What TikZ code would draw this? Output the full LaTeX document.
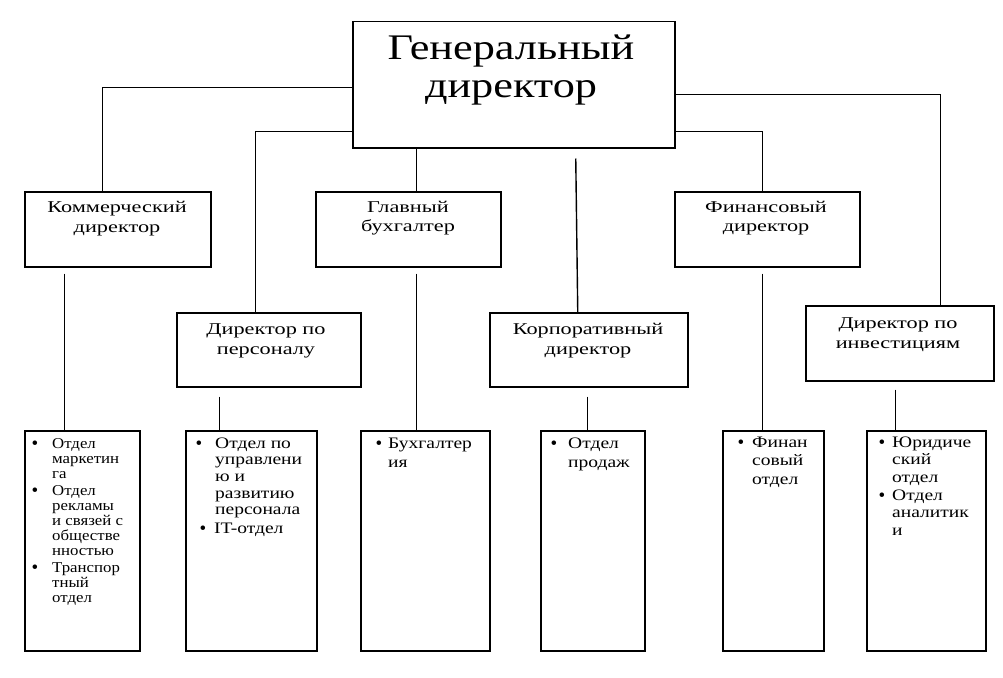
\documentclass[tikz,border=0pt]{standalone}
\usepackage{fontspec}
\setmainfont{Liberation Serif}
\newfontfamily\bigf[FakeStretch=1.23]{Liberation Serif}
\newfontfamily\midf[FakeStretch=1.35]{Liberation Serif}
\newfontfamily\smf[FakeStretch=1.12]{Liberation Serif}
\newfontfamily\smw[FakeStretch=1.22]{Liberation Serif}
\begin{document}
\begin{tikzpicture}[x=1pt,y=-1pt,
  box/.style={draw, line width=1.5pt, inner sep=0pt, anchor=north west},
  ln/.style={line width=1.4pt},
  bigt/.style={font=\bigf\fontsize{36}{38}\selectfont, align=center, anchor=base, inner sep=0pt},
  midt/.style={font=\midf\fontsize{16.5}{19.5}\selectfont, align=center, anchor=base, inner sep=0pt},
  bta/.style={font=\smf\fontsize{15}{15}\selectfont, align=left, anchor=base west, inner sep=0pt},
  btb/.style={font=\smw\fontsize{16}{#1}\selectfont, align=left, anchor=base west, inner sep=0pt},
  bul/.style={font=\fontsize{19}{19}\selectfont, anchor=base, inner sep=0pt}]
\useasboundingbox (0,0) rectangle (1003,677);
% boxes
\node[box, minimum width=322pt, minimum height=126pt] (gen) at (352,21) {};
\node[box, minimum width=186pt, minimum height=75pt] (comm) at (24,191) {};
\node[box, minimum width=185pt, minimum height=75pt] (buh) at (315,191) {};
\node[box, minimum width=185pt, minimum height=75pt] (fin) at (674,191) {};
\node[box, minimum width=184pt, minimum height=74pt] (pers) at (176,312) {};
\node[box, minimum width=198pt, minimum height=74pt] (corp) at (489,312) {};
\node[box, minimum width=188pt, minimum height=75pt] (inv) at (805,305) {};
\node[box, minimum width=115pt, minimum height=220pt] (b1) at (24,430) {};
\node[box, minimum width=131pt, minimum height=220pt] (b2) at (185,430) {};
\node[box, minimum width=129pt, minimum height=220pt] (b3) at (360,430) {};
\node[box, minimum width=104pt, minimum height=220pt] (b4) at (540,430) {};
\node[box, minimum width=101pt, minimum height=220pt] (b5) at (722,430) {};
\node[box, minimum width=119pt, minimum height=220pt] (b6) at (866,430) {};
% titles (positions are the baselines of the last lines)
\node[bigt] (gen-t) at (511,97) {Генеральный\\директор};
\node[midt] (comm-t) at (117,232) {Коммерческий\\директор};
\node[midt] (buh-t) at (408,231.5) {Главный\\бухгалтер};
\node[midt] (fin-t) at (766,231.5) {Финансовый\\директор};
\node[midt] (pers-t) at (266,354) {Директор по\\персоналу};
\node[midt] (corp-t) at (588,354) {Корпоративный\\директор};
\node[midt] (inv-t) at (898,348) {Директор по\\инвестициям};
% bottom lists
\node[bul] (b1-d1) at (35,449) {•};
\node[bta] (b1-i1) at (52,478) {Отдел\\маркетин\\га};
\node[bul] (b1-d2) at (35,496) {•};
\node[bta] (b1-i2) at (52,555) {Отдел\\рекламы\\и связей с\\обществе\\нностью};
\node[bul] (b1-d3) at (35,573) {•};
\node[bta] (b1-i3) at (52,602) {Транспор\\тный\\отдел};
\node[bul] (b2-d1) at (199,449) {•};
\node[btb=16.7] (b2-i1) at (215,514.8) {Отдел по\\управлени\\ю и\\развитию\\персонала};
\node[bul] (b2-d2) at (203,534) {•};
\node[btb=16.7] (b2-i2) at (214,533) {IT-отдел};
\node[bul] (b3-d1) at (379,449) {•};
\node[btb=19] (b3-i1) at (388,467) {Бухгалтер\\ия};
\node[bul] (b4-d1) at (554,449) {•};
\node[btb=19] (b4-i1) at (568,467) {Отдел\\продаж};
\node[bul] (b5-d1) at (741,448) {•};
\node[btb=18.5] (b5-i1) at (752,484) {Финан\\совый\\отдел};
\node[bul] (b6-d1) at (882,448) {•};
\node[btb=17.5] (b6-i1) at (892,482) {Юридиче\\ский\\отдел};
\node[bul] (b6-d2) at (882,501) {•};
\node[btb=17.5] (b6-i2) at (892,535) {Отдел\\аналитик\\и};
% connectors from the general director
\draw[ln] ([yshift=-3pt]gen.west) -| ([xshift=-15pt]comm.north);
\draw[ln] ([yshift=-47pt]gen.west) -| ([xshift=-13pt]pers.north);
\draw[ln] ([xshift=-97pt]gen.south) -- ([xshift=-97pt]gen.south |- buh.north);
\coordinate (gc) at ([xshift=62pt,yshift=-10pt]gen.south);
\draw[ln] (gc) -- ([xshift=-11pt]corp.north);
\draw[ln] ([yshift=-47pt]gen.east) -| ([xshift=-4.5pt]fin.north);
\draw[ln] ([yshift=-10pt]gen.east) -| ([xshift=41pt]inv.north);
% connectors to the departments
\draw[ln] ([xshift=-53pt,yshift=-6pt]comm.south) -- ([xshift=-53pt]comm.south |- b1.north);
\draw[ln] ([xshift=8.5pt,yshift=-6pt]buh.south) -- ([xshift=8.5pt]buh.south |- b3.north);
\draw[ln] ([xshift=-4.5pt,yshift=-6pt]fin.south) -- ([xshift=-4.5pt]fin.south |- b5.north);
\draw[ln] ([xshift=-49pt,yshift=-9pt]pers.south) -- ([xshift=-49pt]pers.south |- b2.north);
\draw[ln] ([xshift=-1pt,yshift=-9pt]corp.south) -- ([xshift=-1pt]corp.south |- b4.north);
\draw[ln] ([xshift=-4pt,yshift=-8pt]inv.south) -- ([xshift=-4pt]inv.south |- b6.north);
\end{tikzpicture}
\end{document}
